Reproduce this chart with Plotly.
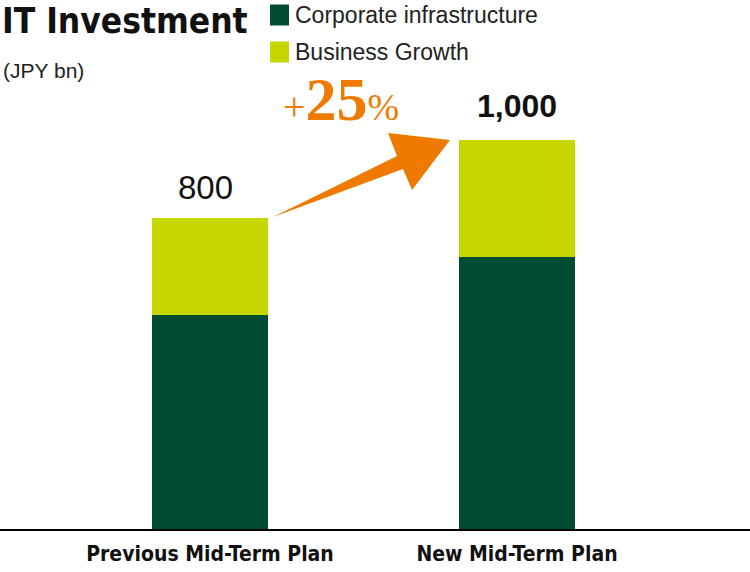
import plotly.graph_objects as go

plans = ["Previous Mid-Term Plan", "New Mid-Term Plan"]
corporate = [550, 700]
business = [250, 300]
totals = [800, 1000]
total_labels = ["800", "1,000"]
growth = "25"

W, H = 750, 572
PLOT_H = 529  # plot area height in px (bottom margin 43)
COND = "DejaVu Sans Condensed, Roboto, sans-serif"


def px(x):
    return x / W


def py(y):
    return (PLOT_H - y) / PLOT_H


fig = go.Figure()
fig.add_trace(go.Bar(x=[0, 1], y=corporate, name="Corporate infrastructure",
                     marker_color="#004b32", width=0.378, marker_line_width=0))
fig.add_trace(go.Bar(x=[0, 1], y=business, name="Business Growth",
                     marker_color="#c5d600", width=0.378, marker_line_width=0))

# totals above bars
fig.add_annotation(x=0, y=totals[0], text=total_labels[0], showarrow=False,
                   yanchor="bottom", yshift=10, xshift=-5,
                   font=dict(family="Liberation Sans", size=33, color="#111"))
fig.add_annotation(x=1, y=totals[1], text="<b>" + total_labels[1] + "</b>", showarrow=False,
                   yanchor="bottom", yshift=14,
                   font=dict(family="Liberation Sans", size=32, color="#111"))

# growth arrow
pts = [(273, 217), (397, 156), (388, 133), (450, 140), (412, 190), (403, 169)]
path = "M " + " L ".join(f"{px(a)},{py(b)}" for a, b in pts) + " Z"
fig.add_shape(type="path", path=path, xref="paper", yref="paper",
              fillcolor="#ef7a00", line_width=0)
fig.add_annotation(x=px(341), y=py(99), xref="paper", yref="paper", showarrow=False,
                   xanchor="center", yanchor="middle",
                   text=("<span style='font-size:40px;font-weight:normal'>+</span>"
                         f"<b>{growth}</b>"
                         "<span style='font-size:38px;font-weight:normal'>%</span>"),
                   font=dict(family="Liberation Serif", size=62, color="#ef7a00"))

# title and unit
fig.add_annotation(x=0, y=py(21), xref="paper", yref="paper", showarrow=False,
                   xanchor="left", yanchor="middle", text="<b>IT Investment</b>",
                   font=dict(family=COND, size=35, color="#111"))
fig.add_annotation(x=px(1), y=py(70), xref="paper", yref="paper", showarrow=False,
                   xanchor="left", yanchor="middle", text="(JPY bn)",
                   font=dict(family="Liberation Sans", size=21, color="#222"))

# custom legend
legend = [("Corporate infrastructure", "#004b32", 15), ("Business Growth", "#c5d600", 52)]
for label, color, yc in legend:
    fig.add_shape(type="rect", xref="paper", yref="paper",
                  x0=px(270), x1=px(289), y0=py(yc - 10.5), y1=py(yc + 10.5),
                  fillcolor=color, line_width=0)
    fig.add_annotation(x=px(293), y=py(yc), xref="paper", yref="paper", showarrow=False,
                       xanchor="left", yanchor="middle", text=label,
                       font=dict(family="Liberation Sans", size=23, color="#222"))

fig.update_layout(
    width=W, height=H, barmode="stack", showlegend=False,
    margin=dict(l=0, r=0, t=0, b=H - PLOT_H),
    plot_bgcolor="white", paper_bgcolor="white",
    xaxis=dict(range=[-210 / 307, 540 / 307], tickvals=[0, 1], ticktext=["<b>" + p + "</b>" for p in plans],
               showline=True, linecolor="black", linewidth=1.5, ticks="", showgrid=False,
               zeroline=False, ticklabelstandoff=5,
               tickfont=dict(family=COND, size=21, color="#111")),
    yaxis=dict(range=[0, 1360], visible=False, showgrid=False),
)

fig.write_html("out.html", config={"displayModeBar": False},
               post_script="document.body.style.margin='0px';")
